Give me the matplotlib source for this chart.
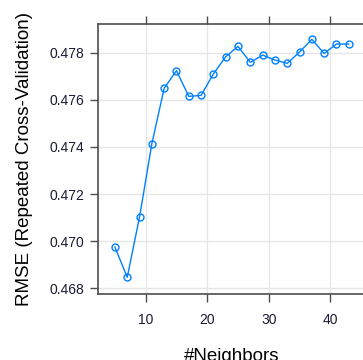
import matplotlib.pyplot as plt
import numpy as np

# k values tried and their cross-validated RMSE
neighbors = [5, 7, 9, 11, 13, 15, 17, 19, 21, 23, 25, 27, 29, 31, 33, 35, 37, 39, 41, 43]
rmse = [0.46975, 0.46847, 0.47103, 0.47414, 0.47649, 0.47724, 0.47615, 0.47619,
        0.47710, 0.47783, 0.47827, 0.47759, 0.47790, 0.47769, 0.47755, 0.47803,
        0.47857, 0.47797, 0.47837, 0.47837]
x_ticks = [10, 20, 30, 40]
y_ticks = [0.468, 0.470, 0.472, 0.474, 0.476, 0.478]

plt.rcParams['font.family'] = ['Liberation Sans', 'DejaVu Sans']

fig = plt.figure(figsize=(3.63, 3.60), dpi=100)
ax = fig.add_axes([0.270, 0.1847, 0.7374, 0.7486])

ax.grid(True, color='#e6e6e6', lw=1.0)
ax.set_axisbelow(True)
ax.plot(neighbors, rmse, color='#0080ff', lw=1.0, marker='o', ms=5,
        mfc='none', mec='#0080ff', mew=1.0)

ax.set_xlim(2.25, 45.75)
ax.set_ylim(0.46778, 0.47922)
ax.set_xticks(x_ticks)
ax.set_yticks(y_ticks)
ax.set_yticklabels(['%.3f' % v for v in y_ticks])

for s in ax.spines.values():
    s.set_color('#4d4d4d')
    s.set_linewidth(1.2)
ax.tick_params(axis='both', which='both', direction='out', length=6, width=1.0,
               color='#4d4d4d', labelsize=10, labelcolor='#1a1a33', pad=4)
ax.tick_params(axis='x', top=True, labeltop=False, pad=8)

# the x label sits partly below the figure edge, as in the original
ax.set_xlabel('#Neighbors', fontsize=13.5, labelpad=15)
ax.set_ylabel('RMSE (Repeated Cross-Validation)', fontsize=13.5, labelpad=12)

fig.savefig('out.png', dpi=100)
